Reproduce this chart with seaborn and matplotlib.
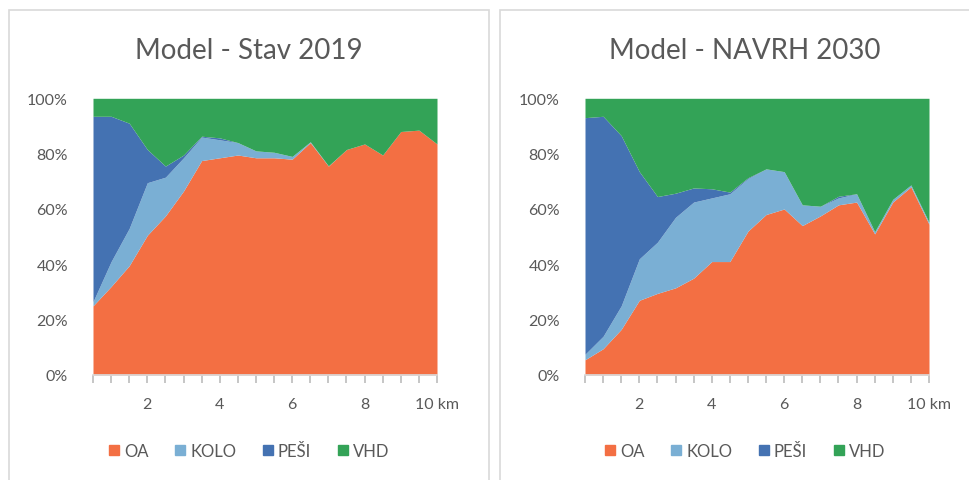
import matplotlib
matplotlib.use("Agg")
import matplotlib.pyplot as plt
import matplotlib.patches as mpatches
from matplotlib.ticker import PercentFormatter
import seaborn as sns

# vzdalenost (km), kategorie po 0.5 km
km = [0.5, 1.0, 1.5, 2.0, 2.5, 3.0, 3.5, 4.0, 4.5, 5.0,
      5.5, 6.0, 6.5, 7.0, 7.5, 8.0, 8.5, 9.0, 9.5, 10.0]
km_labels = ["", "", "", "2", "", "", "", "4", "", "",
             "", "6", "", "", "", "8", "", "", "", "10 km"]

# Model - Stav 2019 (podil v %)
oa_2019 = [25, 32, 39.5, 50.5, 57.5, 66.5, 77.5, 78.5, 79.5, 78.5,
           78.5, 78, 84, 75.5, 81.5, 83.5, 79.5, 88, 88.5, 83.5]
kolo_2019 = [1.5, 9, 13.5, 19, 14, 12, 8.5, 6.5, 4.5, 2.5,
             2, 1, 0.3, 0.1, 0, 0, 0, 0, 0, 0]
pesi_2019 = [67, 52.5, 38, 12, 4, 1, 0.3, 0.7, 0, 0,
             0, 0, 0, 0, 0, 0, 0, 0, 0, 0]
vhd_2019 = [6.5, 6.5, 9, 18.5, 24.5, 20.5, 13.7, 14.3, 16, 19,
            19.5, 21, 15.7, 24.4, 18.5, 16.5, 20.5, 12, 11.5, 16.5]

# Model - NAVRH 2030 (podil v %)
oa_2030 = [5.5, 9.5, 16.5, 27, 29.5, 31.5, 35, 41, 41, 52,
           58, 60, 54, 57.5, 61.5, 62.5, 51, 62.5, 68, 54.5]
kolo_2030 = [2, 4.5, 8.5, 15, 18.5, 25.5, 27.5, 23, 24.5, 19,
             16.5, 13.5, 7.5, 3.5, 2.5, 3, 0.8, 1, 0.7, 0.7]
pesi_2030 = [85.5, 79.5, 61.5, 31.5, 16.5, 8.7, 5.1, 3.3, 0.6, 0.3,
             0, 0, 0, 0, 0.6, 0, 0, 0, 0, 0]
vhd_2030 = [7, 6.5, 13.5, 26.5, 35.5, 34.3, 32.4, 32.7, 33.9, 28.7,
            25.5, 26.5, 38.5, 39, 35.4, 34.5, 48.2, 36.5, 31.3, 44.8]

modes = ["OA", "KOLO", "PEŠI", "VHD"]
colors = ["#F36F43", "#7AAFD4", "#4472B2", "#33A357"]

sns.set_theme(style="white")
plt.rcParams["font.family"] = ["Lato", "DejaVu Sans"]
text_col = "#595959"

fig = plt.figure(figsize=(9.7, 4.81), dpi=100)
W, H = 970, 481

# ramecky grafu
for x0, x1 in [(9, 489), (500, 1000)]:
    fig.patches.append(mpatches.Rectangle((x0 / W, -0.05), (x1 - x0) / W, 1.05 - 11 / H,
                                          transform=fig.transFigure, fill=False,
                                          edgecolor="#d9d9d9", linewidth=1.2))

panels = [
    ("Model - Stav 2019", [oa_2019, kolo_2019, pesi_2019, vhd_2019], 93, 249),
    ("Model - NAVRH 2030", [oa_2030, kolo_2030, pesi_2030, vhd_2030], 585, 745),
]

idx = list(range(len(km)))
for title, series, left, center in panels:
    ax = fig.add_axes([left / W, 105 / H, 344 / W, 276.7 / H])
    ax.stackplot(idx, *series, colors=colors, linewidth=0)
    ax.set_xlim(0, len(km) - 1)
    ax.set_ylim(0, 100)
    ax.yaxis.set_major_formatter(PercentFormatter(decimals=0))
    ax.set_yticks([0, 20, 40, 60, 80, 100])
    ax.set_xticks(idx)
    ax.set_xticklabels(km_labels)
    for s in ["top", "right", "left"]:
        ax.spines[s].set_visible(False)
    ax.spines["bottom"].set_color("#d9d9d9")
    ax.tick_params(axis="x", bottom=True, length=6, color="#bfbfbf",
                   labelsize=11.5, labelcolor=text_col, pad=10)
    ax.tick_params(axis="y", left=False, labelsize=11.5, labelcolor=text_col, pad=12)
    fig.text(center / W, 1 - 51 / H, title, ha="center", va="center",
             fontsize=20, color=text_col)
    handles = [mpatches.Patch(color=c, label=m) for c, m in zip(colors, modes)]
    fig.legend(handles=handles, loc="center", bbox_to_anchor=(center / W, 1 - 452 / H),
               ncol=4, frameon=False, fontsize=12, labelcolor=text_col,
               handlelength=0.6, handleheight=0.6, handletextpad=0.3, columnspacing=1.6)

fig.savefig("out.png", dpi=100, facecolor="white")
